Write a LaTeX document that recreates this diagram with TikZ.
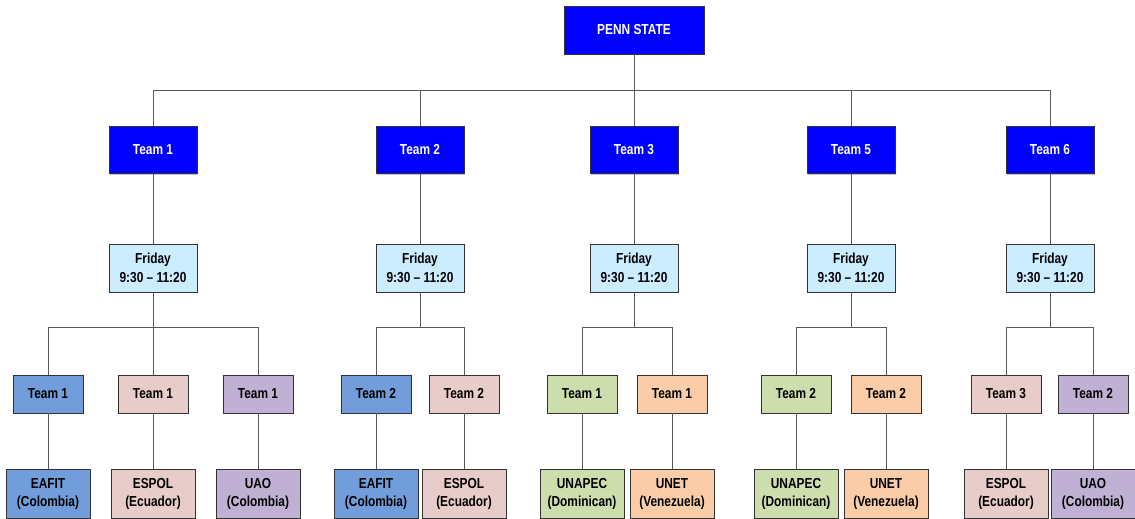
\documentclass[tikz,border=0pt]{standalone}
\usepackage{fontspec}
\setmainfont[FakeStretch=0.82]{Liberation Sans}
\usepackage{tikz}
\usetikzlibrary{shadows}

\definecolor{psblue}{RGB}{0,0,255}
\definecolor{dayblue}{RGB}{204,236,255}
\definecolor{subblue}{RGB}{113,158,219}
\definecolor{subpink}{RGB}{232,204,202}
\definecolor{subpurple}{RGB}{192,177,212}
\definecolor{subgreen}{RGB}{205,221,172}
\definecolor{suborange}{RGB}{250,205,168}

\begin{document}
\begin{tikzpicture}[x=1pt, y=-1pt]
    \tikzstyle{box} = [rectangle, draw=black!80, thin, inner sep=0pt, align=center,
        font=\bfseries\fontsize{14.5}{18.5}\selectfont,
        drop shadow={shadow xshift=1.2pt, shadow yshift=-1.2pt, fill=black!45}]
    \tikzstyle{headbox} = [box, fill=psblue, text=white, minimum width=140pt, minimum height=48pt]
    \tikzstyle{teambox} = [box, fill=psblue, text=white, minimum width=88pt, minimum height=47pt]
    \tikzstyle{daybox} = [box, fill=dayblue, minimum width=88pt, minimum height=48pt]
    \tikzstyle{subbox} = [box, minimum width=70pt, minimum height=38pt]
    \tikzstyle{unibox} = [box, minimum width=84pt, minimum height=49pt]
    \tikzstyle{link} = [draw=black!65, line width=0.8pt]

    \useasboundingbox (0,0) rectangle (1135,519);

    % Top
    \node[headbox] (ps) at (634,30) {PENN STATE};
    \coordinate (bus) at (634,90);
    \draw[link] (ps.south) -- (bus);

    % Teams and time slots
    \foreach \n/\x/\lbl in {t1/153/Team 1, t2/420/Team 2, t3/634/Team 3, t5/851/Team 5, t6/1050/Team 6} {
        \node[teambox] (\n) at (\x,150) {\lbl};
        \node[daybox] (f\n) at (\x,268) {Friday\\9:30 -- 11:20};
        \coordinate (b\n) at (\x,327);
        \draw[link] (bus) -| (\n.north);
        \draw[link] (\n.south) -- (f\n.north);
        \draw[link] (f\n.south) -- (b\n);
    }

    % Sub teams and universities
    \foreach \n/\p/\x/\lbl/\c/\uni in {
        a1/t1/48/Team 1/subblue/EAFIT\\(Colombia),
        a2/t1/153/Team 1/subpink/ESPOL\\(Ecuador),
        a3/t1/258/Team 1/subpurple/UAO\\(Colombia),
        b1/t2/376/Team 2/subblue/EAFIT\\(Colombia),
        b2/t2/464/Team 2/subpink/ESPOL\\(Ecuador),
        c1/t3/582/Team 1/subgreen/UNAPEC\\(Dominican),
        c2/t3/672/Team 1/suborange/UNET\\(Venezuela),
        d1/t5/796/Team 2/subgreen/UNAPEC\\(Dominican),
        d2/t5/886/Team 2/suborange/UNET\\(Venezuela),
        e1/t6/1006/Team 3/subpink/ESPOL\\(Ecuador),
        e2/t6/1093/Team 2/subpurple/UAO\\(Colombia)} {
        \node[subbox, fill=\c] (\n) at (\x,394) {\lbl};
        \node[unibox, fill=\c] (u\n) at (\x,494) {\uni};
        \draw[link] (b\p) -| (\n.north);
        \draw[link] (\n.south) -- (u\n.north);
    }

\end{tikzpicture}
\end{document}
